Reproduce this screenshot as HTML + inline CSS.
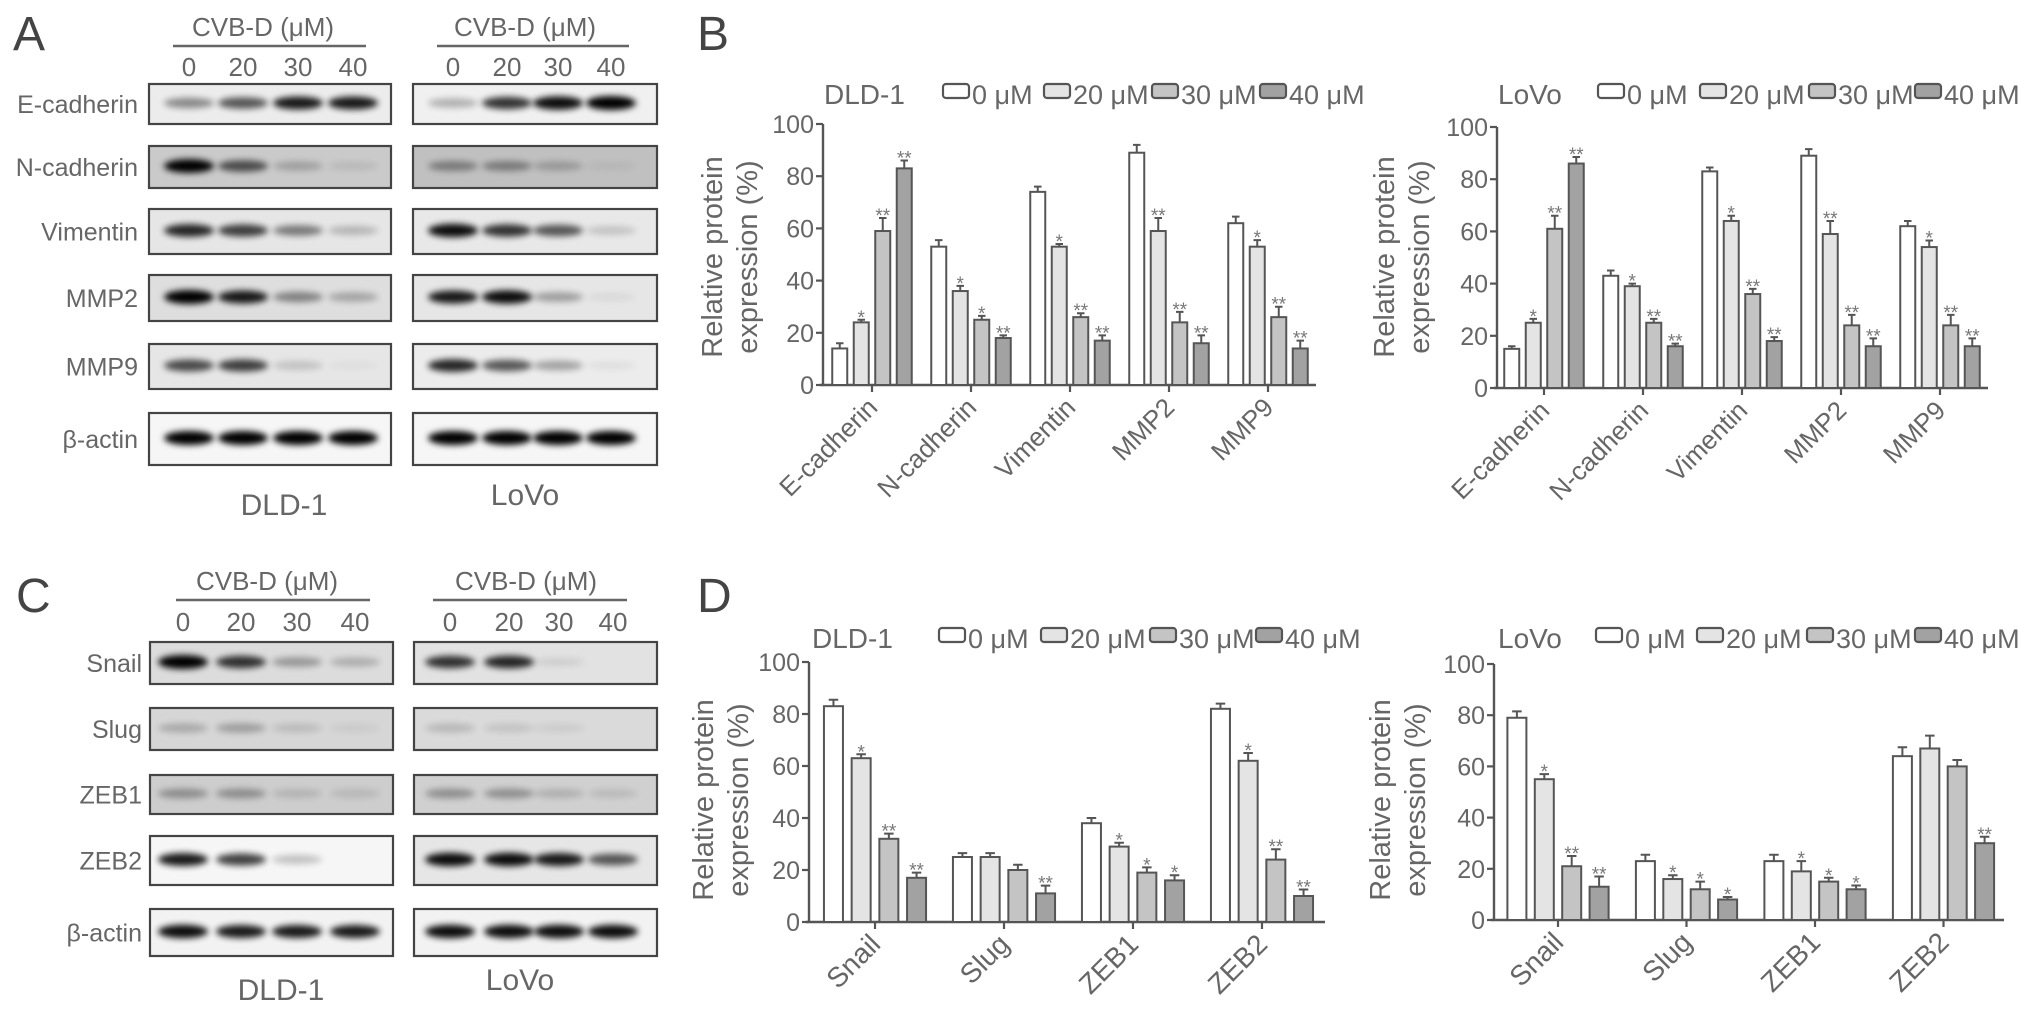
<!DOCTYPE html>
<html><head><meta charset="utf-8">
<style>
html,body{margin:0;padding:0;background:#fff;}
svg{display:block;font-family:"Liberation Sans",Arial,sans-serif;}
</style></head>
<body>
<svg id="fig" width="2031" height="1017" viewBox="0 0 2031 1017" xmlns="http://www.w3.org/2000/svg">
<defs>
<filter id="blur" x="-50%" y="-100%" width="200%" height="300%"><feGaussianBlur stdDeviation="3.2"/></filter>
</defs>
</svg>
<script>
// ---------- chart data ----------
const catsB = ['E-cadherin','N-cadherin','Vimentin','MMP2','MMP9'];
const catsD = ['Snail','Slug','ZEB1','ZEB2'];
const seriesNames = ['0 μM','20 μM','30 μM','40 μM'];
const tickVals = [0,20,40,60,80,100];

const dldB0 = [14,53,74,89,62];
const dldB20 = [24,36,53,59,53];
const dldB30 = [59,25,26,24,26];
const dldB40 = [83,18,17,16,14];
const dldBe0 = [2,2.5,2,3,2.5];
const dldBe20 = [1,2,1,5,2.5];
const dldBe30 = [5,1.5,1.5,4,4];
const dldBe40 = [3,1,2,3,3];
const dldBs20 = ['*','*','*','**','*'];
const dldBs30 = ['**','*','**','**','**'];
const dldBs40 = ['**','**','**','**','**'];

const lovoB0 = [15,43,83,89,62];
const lovoB20 = [25,39,64,59,54];
const lovoB30 = [61,25,36,24,24];
const lovoB40 = [86,16,18,16,16];
const lovoBe0 = [1,2,1.5,2.5,2];
const lovoBe20 = [1.5,1,2,5,2.5];
const lovoBe30 = [5,1.5,2,4,4];
const lovoBe40 = [2.5,1,1.5,3,3];
const lovoBs20 = ['*','*','*','**','*'];
const lovoBs30 = ['**','**','**','**','**'];
const lovoBs40 = ['**','**','**','**','**'];

const dldD0 = [83,25,38,82];
const dldD20 = [63,25,29,62];
const dldD30 = [32,20,19,24];
const dldD40 = [17,11,16,10];
const dldDe0 = [2.5,1.5,2,2];
const dldDe20 = [1.5,1.5,1.5,3];
const dldDe30 = [2,2,2,4];
const dldDe40 = [2,3,2,2.5];
const dldDs20 = ['*','','*','*'];
const dldDs30 = ['**','','*','**'];
const dldDs40 = ['**','**','*','**'];

const lovoD0 = [79,23,23,64];
const lovoD20 = [55,16,19,67];
const lovoD30 = [21,12,15,60];
const lovoD40 = [13,8,12,30];
const lovoDe0 = [2.5,2.5,2.5,3.5];
const lovoDe20 = [2,1.5,4,5];
const lovoDe30 = [4,3,1.5,2.5];
const lovoDe40 = [4,1,1.5,2.5];
const lovoDs20 = ['*','*','*',''];
const lovoDs30 = ['**','*','*',''];
const lovoDs40 = ['**','*','*','**'];

// ---------- blot band intensities ----------
const blotRowsA = ['E-cadherin','N-cadherin','Vimentin','MMP2','MMP9','β-actin'];
const blotA_dld = [[0.4,0.6,0.85,0.85],[0.95,0.6,0.2,0.08],[0.8,0.7,0.45,0.2],[1,0.85,0.4,0.25],[0.65,0.7,0.15,0.03],[1,1,1,1]];
const blotA_lovo = [[0.25,0.75,0.9,1],[0.35,0.35,0.2,0.05],[0.9,0.75,0.6,0.15],[0.85,0.9,0.3,0.05],[0.8,0.6,0.3,0.05],[1,1,1,1]];
const blotRowsC = ['Snail','Slug','ZEB1','ZEB2','β-actin'];
const blotC_dld = [[1,0.75,0.3,0.2],[0.2,0.25,0.12,0.05],[0.3,0.3,0.12,0.1],[0.85,0.7,0.2,0],[0.9,0.85,0.85,0.85]];
const blotC_lovo = [[0.75,0.8,0.08,0],[0.15,0.1,0.06,0],[0.3,0.3,0.15,0.1],[0.9,0.9,0.85,0.6],[0.9,0.9,0.9,0.9]];

// ---------- helpers ----------
const NS = 'http://www.w3.org/2000/svg';
const svg = document.getElementById('fig');
const TXT = '#666';
function mk(tag, attrs, parent, text){
  const e = document.createElementNS(NS, tag);
  for (const k in attrs) e.setAttribute(k, attrs[k]);
  if (text !== undefined) e.textContent = text;
  (parent || svg).appendChild(e);
  return e;
}
const fills = ['#ffffff','#e4e4e4','#c4c4c4','#a2a2a2'];

function drawChart(cfg, cats, vals, errs, sigs){
  const g = mk('g', {});
  
  
  const yS = v => cfg.y0 - (cfg.y0 - cfg.y100) * v / 100;
  const xC = i => cfg.first + i * cfg.spacing;
  const t = mk('text', {x: cfg.titleX, y: cfg.titleY, 'font-size': 28, fill: TXT}, g, cfg.title);
  
  
  for (let s = 0; s < 4; s++){
    const lg = mk('g', {}, g);
    
    
    mk('rect', {x: cfg.legX[s], y: cfg.titleY - 20, width: 26, height: 14, rx: 3, fill: fills[s], stroke: '#555', 'stroke-width': 2.2}, lg);
    mk('text', {x: cfg.legX[s] + 29, y: cfg.titleY, 'font-size': 27, fill: TXT}, lg, seriesNames[s]);
  }
  const ax = mk('path', {d: `M${cfg.x0},${yS(100)}V${cfg.y0}M${cfg.x0 - 3},${cfg.y0}H${cfg.xEnd}`, stroke: '#555', 'stroke-width': 2.4, fill: 'none'}, g);
  
  
  tickVals.forEach(v => {
    mk('line', {x1: cfg.x0 - 7, x2: cfg.x0, y1: yS(v), y2: yS(v), stroke: '#555', 'stroke-width': 2.2}, g);
    const tl = mk('text', {x: cfg.x0 - 9, y: yS(v) + 9, 'font-size': 25, fill: TXT, 'text-anchor': 'end'}, g, String(v));
    
    
  });
  const yt = mk('text', {transform: `translate(${cfg.ytX},${cfg.ytY}) rotate(-90)`, 'font-size': 29, fill: TXT, 'text-anchor': 'middle'}, g);
  
  
  mk('tspan', {x: 0, y: 0}, yt, 'Relative protein');
  mk('tspan', {x: 0, y: cfg.ytGap}, yt, 'expression (%)');
  cats.forEach((c, i) => {
    const cx = xC(i);
    mk('line', {x1: cx, x2: cx, y1: cfg.y0, y2: cfg.y0 + 7, stroke: '#555', 'stroke-width': 2.2}, g);
    const cl = mk('text', {transform: `translate(${cx + 7},${cfg.y0 + 24}) rotate(-45)`, 'font-size': cfg.catFont, fill: TXT, 'text-anchor': 'end'}, g, c);
    
    
    for (let s = 0; s < 4; s++){
      const v = vals[s][i], e = errs[s][i];
      const bx = cx + (s - 1.5) * cfg.step;
      const top = yS(v), etop = yS(v + e);
      const b = mk('rect', {x: bx - cfg.barW / 2, y: top, width: cfg.barW, height: cfg.y0 - top, fill: fills[s], stroke: '#555', 'stroke-width': 2}, g);
      
      
      mk('path', {d: `M${bx},${top}V${etop}M${bx - cfg.barW / 4},${etop}H${bx + cfg.barW / 4}`, stroke: '#555', 'stroke-width': 2, fill: 'none'}, g);
      const sg = sigs[s] ? sigs[s][i] : '';
      if (sg){
        const st = mk('text', {x: bx, y: etop + 4, 'font-size': 19, fill: '#777', 'text-anchor': 'middle'}, g, sg);
        
        
      }
    }
  });
}

drawChart({name:'chart-b-dld1', title:'DLD-1', titleX:824, titleY:104, legX:[943,1044,1152,1260],
  x0:823, xEnd:1316, y100:124, y0:385, first:872, spacing:99, barW:15, step:21.5, catFont:26,
  ytX:722, ytY:257, ytGap:35},
  catsB, [dldB0,dldB20,dldB30,dldB40], [dldBe0,dldBe20,dldBe30,dldBe40], [null,dldBs20,dldBs30,dldBs40]);
drawChart({name:'chart-b-lovo', title:'LoVo', titleX:1498, titleY:104, legX:[1598,1700,1809,1915],
  x0:1497, xEnd:1988, y100:127, y0:388, first:1544, spacing:99, barW:15, step:21.5, catFont:26,
  ytX:1394, ytY:257, ytGap:35},
  catsB, [lovoB0,lovoB20,lovoB30,lovoB40], [lovoBe0,lovoBe20,lovoBe30,lovoBe40], [null,lovoBs20,lovoBs30,lovoBs40]);
drawChart({name:'chart-d-dld1', title:'DLD-1', titleX:812, titleY:648, legX:[939,1041,1150,1256],
  x0:809, xEnd:1325, y100:662, y0:922, first:875, spacing:129, barW:19, step:27.7, catFont:28,
  ytX:713, ytY:800, ytGap:35},
  catsD, [dldD0,dldD20,dldD30,dldD40], [dldDe0,dldDe20,dldDe30,dldDe40], [null,dldDs20,dldDs30,dldDs40]);
drawChart({name:'chart-d-lovo', title:'LoVo', titleX:1498, titleY:648, legX:[1596,1697,1807,1915],
  x0:1494, xEnd:2004, y100:664, y0:920, first:1558, spacing:128.5, barW:19, step:27.4, catFont:28,
  ytX:1390, ytY:800, ytGap:35},
  catsD, [lovoD0,lovoD20,lovoD30,lovoD40], [lovoDe0,lovoDe20,lovoDe30,lovoDe40], [null,lovoDs20,lovoDs30,lovoDs40]);

// ---------- western blots ----------
function drawBlots(cfg, rows, dld, lovo){
  const g = mk('g', {});
  
  
  [[cfg.hdrL, cfg.lineL, cfg.lanesL],[cfg.hdrR, cfg.lineR, cfg.lanesR]].forEach(([hx, ln, lanes]) => {
    const h = mk('text', {x: hx, y: cfg.hdrY, 'font-size': 26, fill: TXT, 'text-anchor': 'middle'}, g, 'CVB-D (μM)');
    
    
    mk('line', {x1: ln[0], x2: ln[1], y1: cfg.hdrY + 10, y2: cfg.hdrY + 10, stroke: '#666', 'stroke-width': 2.5}, g);
    ['0','20','30','40'].forEach((d, k) => {
      const dl = mk('text', {x: lanes[k], y: cfg.numY, 'font-size': 26, fill: TXT, 'text-anchor': 'middle'}, g, d);
      
      
    });
  });
  rows.forEach((r, i) => {
    const [y1, y2] = cfg.rowY[i];
    const lbl = mk('text', {x: cfg.labelX, y: (y1 + y2) / 2 + 9, 'font-size': 25, fill: TXT, 'text-anchor': 'end'}, g, r);
    
    
    [[cfg.boxL, cfg.lanesL, dld[i], cfg.bgL[i]], [cfg.boxR, cfg.lanesR, lovo[i], cfg.bgR[i]]].forEach(([bx, lanes, ints, bg]) => {
      const bg2 = mk('g', {}, g);
      
      
      mk('rect', {x: bx[0], y: y1, width: bx[1] - bx[0], height: y2 - y1, fill: bg}, bg2);
      lanes.forEach((lx, k) => {
        const a = ints[k];
        if (a > 0) mk('ellipse', {cx: lx, cy: (y1 + y2) / 2 - 1, rx: 25, ry: 4 + 3 * a, fill: '#000', opacity: Math.min(1, a * 1.05), filter: 'url(#blur)'}, bg2);
      });
      mk('rect', {x: bx[0], y: y1, width: bx[1] - bx[0], height: y2 - y1, fill: 'none', stroke: '#444', 'stroke-width': 2.2}, bg2);
    });
  });
  const c1 = mk('text', {x: cfg.cellL, y: cfg.cellY, 'font-size': 30, fill: TXT, 'text-anchor': 'middle'}, g, 'DLD-1');
  
  
  const c2 = mk('text', {x: cfg.cellR, y: cfg.cellY - 10, 'font-size': 30, fill: TXT, 'text-anchor': 'middle'}, g, 'LoVo');
  
  
}

drawBlots({name:'blots-a', hdrL:263, hdrR:525, hdrY:36, lineL:[173,366], lineR:[437,629], numY:76,
  lanesL:[189,243,298,353], lanesR:[453,507,558,611], labelX:138,
  boxL:[149,391], boxR:[413,657],
  rowY:[[84,124],[146,188],[209,254],[275,321],[344,389],[413,465]],
  bgL:['#ececec','#cacaca','#e6e6e6','#dedede','#e6e6e6','#f6f6f6'],
  bgR:['#f0f0f0','#c0c0c0','#e8e8e8','#e6e6e6','#ececec','#f6f6f6'],
  cellL:284, cellR:525, cellY:515}, blotRowsA, blotA_dld, blotA_lovo);

drawBlots({name:'blots-c', hdrL:267, hdrR:526, hdrY:590, lineL:[176,370], lineR:[433,627], numY:631,
  lanesL:[183,241,297,355], lanesR:[450,509,559,613], labelX:142,
  boxL:[150,393], boxR:[414,657],
  rowY:[[642,684],[708,750],[775,814],[836,885],[909,956]],
  bgL:['#dcdcdc','#d6d6d6','#cdcdcd','#f6f6f6','#f2f2f2'],
  bgR:['#e2e2e2','#dadada','#d0d0d0','#e6e6e6','#f2f2f2'],
  cellL:281, cellR:520, cellY:1000}, blotRowsC, blotC_dld, blotC_lovo);

[['A',13,50],['B',697,50],['C',16,612],['D',697,612]].forEach(([l, x, y]) => {
  const t = mk('text', {x: x, y: y, 'font-size': 48, fill: '#444'}, svg, l);
  
  
});
</script>
</body></html>
